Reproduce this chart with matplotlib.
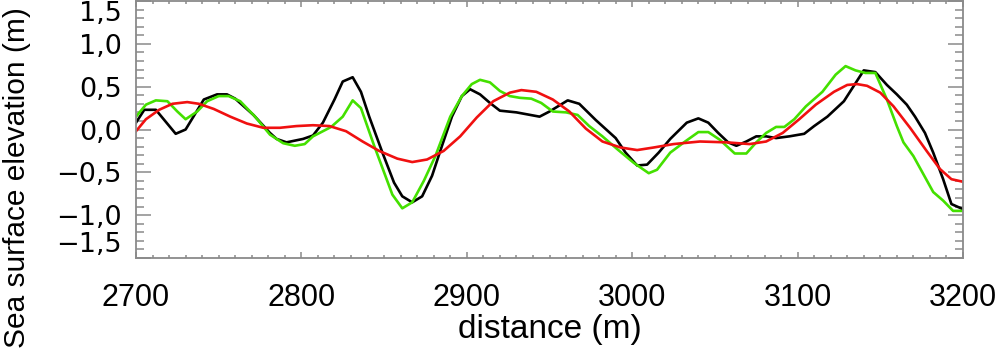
import matplotlib
matplotlib.use("Agg")
import matplotlib.pyplot as plt
from matplotlib.ticker import MultipleLocator, FixedLocator, FixedFormatter

# ── Data ──────────────────────────────────────────────────────────

black_x = [2700, 2705, 2712, 2724, 2730, 2741, 2749, 2755, 2760, 2771,
           2781, 2785, 2791, 2801, 2807, 2813, 2820, 2825, 2831, 2836,
           2841, 2849, 2856, 2861, 2867, 2873, 2879, 2885, 2891, 2897,
           2902, 2908, 2914, 2920, 2930, 2944, 2950, 2961, 2968, 2978,
           2990, 2996, 3003, 3009, 3016, 3023, 3033, 3040, 3046, 3052,
           3058, 3063, 3069, 3075, 3081, 3087, 3095, 3104, 3110, 3118,
           3128, 3135, 3140, 3147, 3154, 3160, 3166, 3171, 3177, 3182,
           3188, 3193, 3200]
black_y = [0.08, 0.23, 0.23, -0.05, 0.00, 0.35, 0.41, 0.41, 0.36, 0.17,
           -0.04, -0.11, -0.15, -0.11, -0.07, 0.08, 0.35, 0.56, 0.61, 0.44,
           0.15, -0.27, -0.62, -0.78, -0.85, -0.78, -0.54, -0.19, 0.15, 0.39,
           0.47, 0.41, 0.31, 0.22, 0.20, 0.15, 0.21, 0.34, 0.30, 0.11,
           -0.10, -0.27, -0.42, -0.41, -0.27, -0.11, 0.08, 0.13, 0.08, -0.04,
           -0.15, -0.19, -0.14, -0.08, -0.08, -0.10, -0.08, -0.05, 0.04, 0.15,
           0.33, 0.54, 0.69, 0.67, 0.52, 0.41, 0.29, 0.15, -0.04, -0.27,
           -0.58, -0.87, -0.93]

green_x = [2700, 2706, 2712, 2719, 2725, 2730, 2737, 2743, 2750, 2756,
           2763, 2772, 2781, 2789, 2796, 2802, 2807, 2818, 2825, 2831,
           2836, 2844, 2855, 2861, 2867, 2874, 2881, 2890, 2897, 2903,
           2908, 2914, 2920, 2926, 2932, 2939, 2945, 2952, 2960, 2967,
           2974, 2982, 2991, 3001, 3010, 3015, 3023, 3032, 3040, 3046,
           3053, 3062, 3069, 3075, 3081, 3087, 3092, 3098, 3105, 3115,
           3123, 3129, 3135, 3141, 3147, 3154, 3160, 3164, 3170, 3176,
           3182, 3188, 3194, 3200]
green_y = [0.15, 0.29, 0.34, 0.33, 0.21, 0.12, 0.21, 0.33, 0.39, 0.39,
           0.33, 0.15, -0.06, -0.16, -0.19, -0.17, -0.08, 0.03, 0.15, 0.34,
           0.25, -0.19, -0.76, -0.92, -0.85, -0.60, -0.31, 0.15, 0.39, 0.53,
           0.58, 0.55, 0.45, 0.39, 0.37, 0.36, 0.31, 0.21, 0.20, 0.17,
           0.04, -0.08, -0.23, -0.39, -0.51, -0.47, -0.27, -0.14, -0.03, -0.03,
           -0.12, -0.28, -0.28, -0.15, -0.04, 0.03, 0.03, 0.12, 0.27, 0.44,
           0.64, 0.74, 0.69, 0.66, 0.66, 0.35, 0.04, -0.15, -0.31, -0.52,
           -0.73, -0.83, -0.95, -0.95]

red_x = [2700, 2706, 2714, 2722, 2731, 2738, 2747, 2757, 2767, 2777,
         2787, 2797, 2807, 2817, 2827, 2837, 2847, 2858, 2867, 2876,
         2886, 2896, 2906, 2916, 2926, 2933, 2942, 2952, 2962, 2972,
         2982, 2993, 3003, 3013, 3025, 3041, 3057, 3071, 3081, 3091,
         3101, 3111, 3122, 3130, 3136, 3142, 3150, 3158, 3168, 3178,
         3186, 3193, 3200]
red_y = [-0.02, 0.12, 0.23, 0.30, 0.32, 0.30, 0.24, 0.15, 0.07, 0.02,
         0.02, 0.04, 0.05, 0.04, -0.02, -0.14, -0.25, -0.34, -0.38, -0.35,
         -0.25, -0.08, 0.14, 0.33, 0.43, 0.46, 0.44, 0.35, 0.21, 0.01,
         -0.14, -0.21, -0.24, -0.21, -0.17, -0.14, -0.15, -0.17, -0.14, -0.04,
         0.12, 0.29, 0.44, 0.52, 0.53, 0.51, 0.43, 0.27, 0.02, -0.25,
         -0.46, -0.58, -0.61]

y_ticks = [-1.5, -1.0, -0.5, 0.0, 0.5, 1.0, 1.5]
y_labels = ["\u22121,5", "\u22121,0", "\u22120,5", "0,0", "0,5", "1,0", "1,5"]
x_ticks = [2700, 2800, 2900, 3000, 3100, 3200]

# ── Figure ────────────────────────────────────────────────────────

plt.rcParams['font.family'] = ['Liberation Sans', 'DejaVu Sans']

fig = plt.figure(figsize=(10.0, 3.55), dpi=100)
ax = fig.add_axes([0.136, 0.2732, 0.827, 0.7240])

ax.plot(black_x, black_y, color='black', lw=1.9)
ax.plot(green_x, green_y, color='#44e000', lw=1.9)
ax.plot(red_x, red_y, color='#f01010', lw=1.9)

ax.set_xlim(2700, 3200)
ax.set_ylim(-1.5, 1.5)

ax.xaxis.set_major_locator(FixedLocator(x_ticks))
ax.xaxis.set_minor_locator(MultipleLocator(10))
ax.yaxis.set_major_locator(FixedLocator(y_ticks))
ax.yaxis.set_major_formatter(FixedFormatter(y_labels))
ax.yaxis.set_minor_locator(MultipleLocator(0.1))

edge = '#8a8a8a'
for sp in ax.spines.values():
    sp.set_color(edge)
    sp.set_linewidth(1.3)

ax.tick_params(axis='both', which='both', direction='in', color=edge,
               top=True, right=True, width=1.1)
ax.tick_params(axis='x', which='major', length=4.5, labelsize=22, pad=18)
ax.tick_params(axis='x', which='minor', length=2.2)
ax.tick_params(axis='y', which='major', length=10.5, pad=10,
               labelsize=19.5, labelfontfamily='DejaVu Sans')
ax.tick_params(axis='y', which='minor', length=5.8)

# end labels kept inside the frame, as in the original
ylabs = ax.get_yticklabels()
ylabs[0].set_va('bottom')
ylabs[-1].set_va('top')

ax.set_xlabel("distance (m)", fontsize=24, labelpad=1)
fig.text(0.017, 0.5, "Sea surface elevation (m)", rotation=90,
         fontsize=21.5, ha='center', va='center')

fig.savefig("out.png", dpi=100)
